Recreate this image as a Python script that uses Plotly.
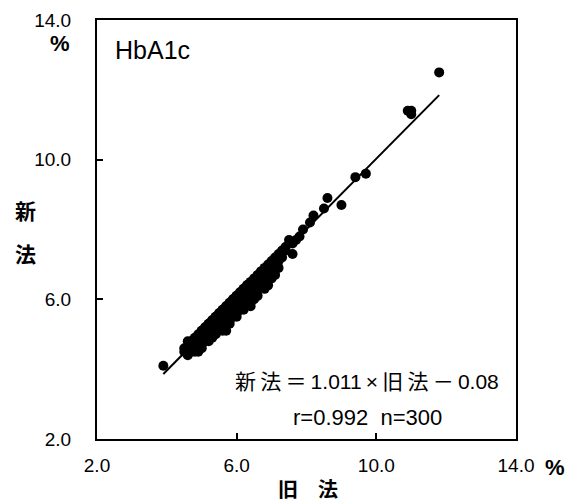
import plotly.graph_objects as go

# HbA1c: old method (旧法, x) vs new method (新法, y), values in %
old_method = [
    3.9,
    4.5, 4.5,
    4.6, 4.6, 4.6,
    4.7, 4.7, 4.7, 4.7, 4.7,
    4.8, 4.8, 4.8, 4.8, 4.8, 4.8, 4.8,
    4.9, 4.9, 4.9, 4.9, 4.9, 4.9, 4.9, 4.9, 4.9,
    5.0, 5.0, 5.0, 5.0, 5.0, 5.0, 5.0, 5.0, 5.0, 5.0, 5.0,
    5.1, 5.1, 5.1, 5.1, 5.1, 5.1, 5.1, 5.1, 5.1, 5.1, 5.1, 5.1,
    5.2, 5.2, 5.2, 5.2, 5.2, 5.2, 5.2, 5.2, 5.2, 5.2, 5.2, 5.2, 5.2,
    5.3, 5.3, 5.3, 5.3, 5.3, 5.3, 5.3, 5.3, 5.3, 5.3, 5.3, 5.3, 5.3, 5.3,
    5.4, 5.4, 5.4, 5.4, 5.4, 5.4, 5.4, 5.4, 5.4, 5.4, 5.4, 5.4, 5.4, 5.4, 5.4,
    5.5, 5.5, 5.5, 5.5, 5.5, 5.5, 5.5, 5.5, 5.5, 5.5, 5.5, 5.5, 5.5, 5.5, 5.5,
    5.6, 5.6, 5.6, 5.6, 5.6, 5.6, 5.6, 5.6, 5.6, 5.6, 5.6, 5.6, 5.6, 5.6, 5.6,
    5.7, 5.7, 5.7, 5.7, 5.7, 5.7, 5.7, 5.7, 5.7, 5.7, 5.7, 5.7, 5.7, 5.7,
    5.8, 5.8, 5.8, 5.8, 5.8, 5.8, 5.8, 5.8, 5.8, 5.8, 5.8, 5.8, 5.8, 5.8,
    5.9, 5.9, 5.9, 5.9, 5.9, 5.9, 5.9, 5.9, 5.9, 5.9, 5.9, 5.9, 5.9,
    6.0, 6.0, 6.0, 6.0, 6.0, 6.0, 6.0, 6.0, 6.0, 6.0, 6.0, 6.0,
    6.1, 6.1, 6.1, 6.1, 6.1, 6.1, 6.1, 6.1, 6.1, 6.1, 6.1,
    6.2, 6.2, 6.2, 6.2, 6.2, 6.2, 6.2, 6.2, 6.2, 6.2,
    6.3, 6.3, 6.3, 6.3, 6.3, 6.3, 6.3, 6.3, 6.3,
    6.4, 6.4, 6.4, 6.4, 6.4, 6.4, 6.4, 6.4, 6.4,
    6.5, 6.5, 6.5, 6.5, 6.5, 6.5, 6.5, 6.5,
    6.6, 6.6, 6.6, 6.6, 6.6, 6.6, 6.6,
    6.7, 6.7, 6.7, 6.7, 6.7, 6.7, 6.7,
    6.8, 6.8, 6.8, 6.8, 6.8, 6.8,
    6.9, 6.9, 6.9, 6.9, 6.9,
    7.0, 7.0, 7.0, 7.0, 7.0,
    7.1, 7.1, 7.1, 7.1,
    7.2, 7.2, 7.2,
    7.3, 7.3, 7.4, 7.4, 7.5, 7.6, 7.6, 7.7, 7.8, 7.9,
    8.1, 8.2, 8.5, 8.6, 9.0, 9.4, 9.7,
    10.9, 11.0, 11.0, 11.8,
    4.6, 4.9, 5.0, 5.2, 5.3, 5.4, 5.5, 5.6, 5.7, 5.8, 5.9, 6.0,
    6.1, 6.2, 6.3, 6.4, 6.5, 6.6, 6.7, 6.8, 7.0, 7.1, 6.9, 7.2,
]
new_method = [
    4.1,
    4.6, 4.5,
    4.8, 4.6, 4.5,
    4.7, 4.6, 4.8, 4.5, 4.7,
    4.8, 4.7, 4.9, 4.6, 4.7, 4.8, 4.5,
    4.9, 4.8, 4.9, 5.0, 4.7, 4.8, 4.6, 4.9, 4.8,
    5.0, 4.9, 5.0, 5.1, 4.8, 4.9, 5.0, 4.7, 4.9, 5.0, 5.1,
    5.1, 5.0, 5.1, 5.2, 4.9, 5.0, 5.1, 4.8, 5.0, 5.1, 5.0, 5.2,
    5.2, 5.1, 5.2, 5.3, 5.0, 5.1, 5.2, 4.9, 5.1, 5.2, 5.1, 5.3, 5.0,
    5.3, 5.2, 5.3, 5.4, 5.1, 5.2, 5.3, 5.0, 5.2, 5.3, 5.2, 5.4, 5.1, 5.3,
    5.4, 5.3, 5.4, 5.5, 5.2, 5.3, 5.4, 5.1, 5.3, 5.4, 5.3, 5.5, 5.2, 5.4, 5.3,
    5.5, 5.4, 5.5, 5.6, 5.3, 5.4, 5.5, 5.2, 5.4, 5.5, 5.4, 5.6, 5.3, 5.5, 5.1,
    5.6, 5.5, 5.6, 5.7, 5.4, 5.5, 5.6, 5.3, 5.5, 5.6, 5.5, 5.7, 5.4, 5.6, 5.2,
    5.7, 5.6, 5.7, 5.8, 5.5, 5.6, 5.7, 5.4, 5.6, 5.7, 5.6, 5.8, 5.1, 5.7,
    5.8, 5.7, 5.8, 5.9, 5.6, 5.7, 5.8, 5.5, 5.7, 5.8, 5.7, 5.9, 5.4, 5.8,
    5.9, 5.8, 5.9, 6.0, 5.7, 5.8, 5.9, 5.6, 5.8, 5.9, 5.8, 6.0, 5.5,
    6.0, 5.9, 6.0, 6.1, 5.8, 5.9, 6.0, 5.7, 5.9, 6.0, 6.1, 5.6,
    6.1, 6.0, 6.1, 6.2, 5.9, 6.0, 6.1, 5.8, 6.0, 6.2, 5.7,
    6.2, 6.1, 6.2, 6.3, 6.0, 6.1, 6.2, 5.9, 6.1, 6.3,
    6.3, 6.2, 6.3, 6.4, 6.1, 6.2, 6.0, 6.3, 6.4,
    6.4, 6.3, 6.4, 6.5, 6.2, 6.3, 6.1, 6.4, 5.9,
    6.5, 6.4, 6.5, 6.6, 6.3, 6.4, 6.2, 6.5,
    6.6, 6.5, 6.6, 6.7, 6.4, 6.5, 6.3,
    6.7, 6.6, 6.7, 6.8, 6.5, 6.6, 6.4,
    6.8, 6.7, 6.8, 6.9, 6.6, 6.7,
    6.9, 6.8, 7.0, 6.7, 6.9,
    7.0, 6.9, 7.1, 6.8, 7.0,
    7.1, 7.0, 7.2, 6.9,
    7.2, 7.1, 7.3,
    7.4, 7.2, 7.5, 7.4, 7.7, 7.3, 7.6, 7.7, 7.8, 8.0,
    8.2, 8.4, 8.6, 8.9, 8.7, 9.5, 9.6,
    11.4, 11.3, 11.4, 12.5,
    4.4, 4.5, 4.6, 4.8, 4.9, 5.0, 5.6, 5.1, 5.3, 5.3, 6.0, 5.5,
    5.7, 5.7, 6.4, 5.8, 6.0, 6.1, 6.8, 6.3, 6.6, 6.7, 6.4, 6.9,
]

slope = 1.011
intercept = -0.08
eq_text = "新\u2009法\u2009＝\u20091.011\u2009×\u2009旧\u2009法\u2009－\u20090.08"
stat_text = "r=0.992\u00a0\u00a0n=300"
tick_vals = [2, 6, 10, 14]
tick_text = ["2.0", "6.0", "10.0", "14.0"]

FONT = "Liberation Sans, Arial, Noto Sans CJK JP, sans-serif"
CJK = "Noto Sans CJK JP, sans-serif"

x_lo, x_hi = min(old_method), max(old_method)

fig = go.Figure()
fig.add_trace(go.Scatter(
    x=[x_lo, x_hi],
    y=[slope * x_lo + intercept, slope * x_hi + intercept],
    mode="lines", line=dict(color="black", width=2),
    showlegend=False, hoverinfo="skip",
))
fig.add_trace(go.Scatter(
    x=old_method, y=new_method, mode="markers",
    marker=dict(color="black", size=10, line=dict(width=0)),
    showlegend=False,
))

axis_common = dict(
    range=[2, 14], tickvals=tick_vals, ticktext=tick_text,
    ticks="inside", ticklen=6, tickwidth=1.5, tickcolor="black",
    showline=True, linewidth=2, linecolor="black", mirror=True,
    showgrid=False, zeroline=False, automargin=False,
    tickfont=dict(family=FONT, size=19, color="black"),
)
fig.update_xaxes(**axis_common, ticklabelstandoff=8)
fig.update_yaxes(**axis_common, ticklabelstandoff=20)

W = 419.0  # plot-area size in px


def px(xp, yp):
    return (xp - 97) / W, (439 - yp) / W


ann = []


def add(text, xp, yp, size, family=FONT, xanchor="center"):
    ax, ay = px(xp, yp)
    ann.append(dict(text=text, x=ax, y=ay, xref="paper", yref="paper",
                    xanchor=xanchor, yanchor="middle", showarrow=False,
                    font=dict(family=family, size=size, color="black")))


add("HbA1c", 113, 50, 25, xanchor="left")
add(eq_text, 367, 381, 21)
add(stat_text, 367, 417, 22)
add("<b>%</b>", 72, 43, 22, xanchor="right")
add("<b>%</b>", 555, 467, 22)
add("<b>旧　法</b>", 308, 488, 20, family=CJK)
add("<b>新</b>", 25, 210, 21, family=CJK)
add("<b>法</b>", 25, 253, 21, family=CJK)

fig.update_layout(
    width=570, height=503,
    margin=dict(l=97, r=54, t=20, b=64),
    paper_bgcolor="white", plot_bgcolor="white",
    annotations=ann,
    showlegend=False,
)

fig.write_html("out.html",
               config={"displayModeBar": False},
               post_script="document.body.style.margin='0';document.body.style.overflow='hidden';")
